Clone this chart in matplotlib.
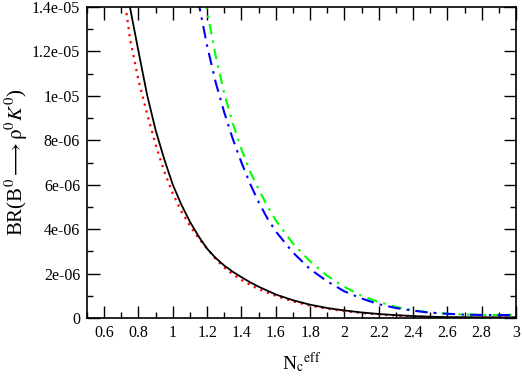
import numpy as np
import matplotlib
matplotlib.use('Agg')
import matplotlib.pyplot as plt
from matplotlib.ticker import MultipleLocator, FuncFormatter

plt.rcParams['font.family'] = ['Liberation Serif', 'DejaVu Serif']
plt.rcParams['mathtext.fontset'] = 'stix'

# black solid
x_black = [0.70, 0.75, 0.80, 0.85, 0.90, 0.95, 1.00, 1.05, 1.10, 1.15, 1.20, 1.25, 1.30,
           1.35, 1.40, 1.45, 1.50, 1.60, 1.70, 1.80, 1.90, 2.00, 2.10, 2.20, 2.30,
           2.40, 2.50, 2.60, 2.80, 3.00]
y_black = [16.4, 14.0, 12.0, 10.05, 8.45, 7.15, 6.0, 5.1, 4.33, 3.68, 3.12, 2.70, 2.36,
           2.08, 1.84, 1.61, 1.41, 1.06, 0.80, 0.60, 0.45, 0.34, 0.25, 0.18, 0.13,
           0.09, 0.06, 0.04, 0.03, 0.03]

# red dotted
x_red = [0.68, 0.725, 0.75, 0.80, 0.85, 0.90, 0.95, 1.00, 1.05, 1.10, 1.15, 1.20, 1.25,
         1.30, 1.35, 1.40, 1.45, 1.50, 1.60, 1.70, 1.80, 1.90, 2.00, 2.10, 2.20,
         2.30, 2.40, 2.50, 2.60, 2.80, 3.00]
y_red = [15.5, 14.0, 12.6, 10.7, 9.2, 7.8, 6.6, 5.6, 4.8, 4.15, 3.6, 3.12, 2.66,
         2.27, 1.97, 1.72, 1.50, 1.30, 1.00, 0.75, 0.56, 0.42, 0.31, 0.23, 0.16,
         0.11, 0.07, 0.04, 0.02, 0.02, 0.02]

# blue dash-dot
x_blue = [1.10, 1.15, 1.20, 1.25, 1.30, 1.35, 1.40, 1.45, 1.50, 1.55, 1.60, 1.70, 1.80,
          1.90, 2.00, 2.10, 2.20, 2.30, 2.40, 2.50, 2.60, 2.70, 2.80, 2.90, 3.00]
y_blue = [16.5, 14.2, 12.25, 10.6, 9.25, 8.05, 7.0, 6.05, 5.22, 4.5, 3.9, 2.95, 2.2,
          1.65, 1.2, 0.88, 0.62, 0.45, 0.33, 0.24, 0.19, 0.15, 0.14, 0.13, 0.14]

# green dash-dot
x_green = [1.15, 1.20, 1.25, 1.30, 1.35, 1.40, 1.45, 1.50, 1.55, 1.60, 1.70, 1.80, 1.90,
           2.00, 2.10, 2.20, 2.30, 2.40, 2.50, 2.60, 2.70, 2.80, 2.90, 3.00]
y_green = [16.3, 13.8, 11.8, 10.1, 8.75, 7.6, 6.6, 5.8, 5.05, 4.4, 3.35, 2.55, 1.9,
           1.4, 1.0, 0.72, 0.50, 0.35, 0.25, 0.19, 0.16, 0.14, 0.14, 0.15]

scale = 1e-6

fig = plt.figure(figsize=(5.22, 3.82), dpi=100)
ax = fig.add_axes([0.1667, 0.1675, 0.8218, 0.8142])

ax.plot(x_green, np.array(y_green) * scale, color='#00ff00', lw=1.5, dashes=(5, 3, 1.2, 3))
ax.plot(x_blue, np.array(y_blue) * scale, color='#0000ff', lw=1.5, dashes=(6, 3, 1.2, 3))
ax.plot(x_red, np.array(y_red) * scale, color='#ff0000', lw=1.6, linestyle=(0, (1, 2.2)))
ax.plot(x_black, np.array(y_black) * scale, color='black', lw=1.3)

ax.set_xlim(0.5, 3)
ax.set_ylim(0, 1.4e-5)
ax.xaxis.set_major_locator(MultipleLocator(0.2))
ax.xaxis.set_minor_locator(MultipleLocator(0.1))
ax.yaxis.set_major_locator(MultipleLocator(2e-6))
ax.yaxis.set_minor_locator(MultipleLocator(1e-6))
fmt = FuncFormatter(lambda v, p: '%g' % v)
ax.xaxis.set_major_formatter(fmt)
ax.yaxis.set_major_formatter(fmt)

ax.tick_params(which='both', direction='in', top=True, right=True, labelsize=11.5, width=1.0)
ax.tick_params(which='major', length=9, pad=5)
ax.tick_params(which='minor', length=4.5)
for s in ax.spines.values():
    s.set_linewidth(1.2)

ax.set_xlabel(r'N$_{\rm c}{}^{\rm eff}$', fontsize=14, labelpad=7)
ax.set_ylabel(r'BR(B$^0$$\longrightarrow$$\rm\rho^0$$K^0$)', fontsize=15, labelpad=1)

fig.savefig('out.png', dpi=100)
